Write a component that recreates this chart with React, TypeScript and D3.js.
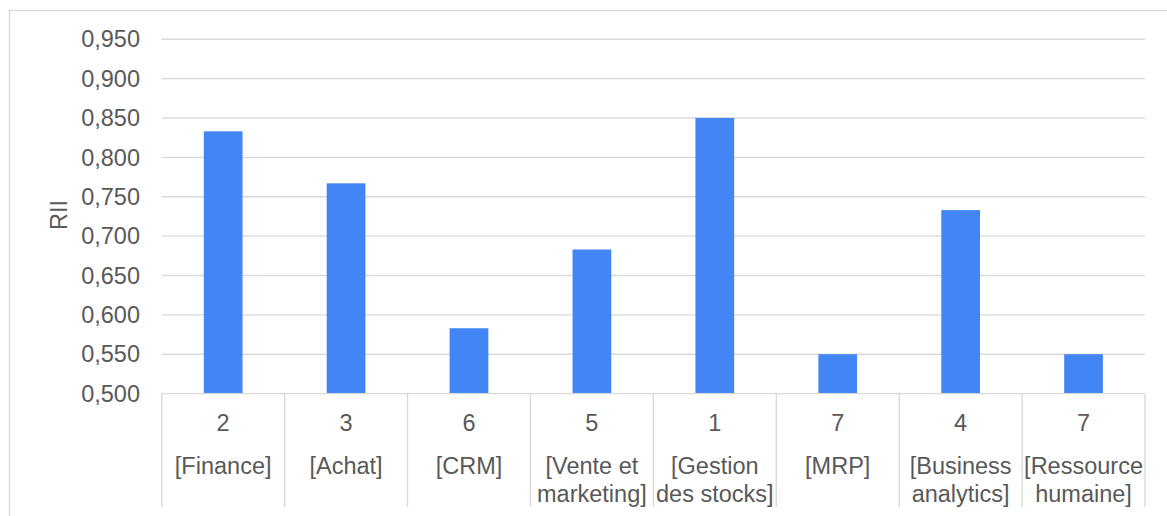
import React from "react";
import * as d3 from "d3";

// RII per ERP module, with its rank
const modules: string[][] = [
  ["[Finance]"],
  ["[Achat]"],
  ["[CRM]"],
  ["[Vente et", "marketing]"],
  ["[Gestion", "des stocks]"],
  ["[MRP]"],
  ["[Business", "analytics]"],
  ["[Ressource", "humaine]"],
];
const ranks: string[] = ["2", "3", "6", "5", "1", "7", "4", "7"];
const rii: number[] = [0.833, 0.767, 0.583, 0.683, 0.85, 0.55, 0.733, 0.55];
const yTicks: number[] = [0.5, 0.55, 0.6, 0.65, 0.7, 0.75, 0.8, 0.85, 0.9, 0.95];

const W = 1167;
const H = 516;
const plot = { left: 161.7, right: 1145, top: 39.2, bottom: 393.6 };
const FONT = "'Liberation Sans', Arial, sans-serif";
const TEXT = "#595959";
const GRID = "#d9d9d9";
const BAR = "#4285f4";
const FS = 23.5;

export default function App() {
  const idx = rii.map((_, i) => String(i));
  const x = d3
    .scaleBand<string>()
    .domain(idx)
    .range([plot.left, plot.right])
    .paddingInner(0)
    .paddingOuter(0);
  const y = d3.scaleLinear().domain([0.5, 0.95]).range([plot.bottom, plot.top]);
  const bw = x.bandwidth() * 0.315;
  const fmt = (v: number) => d3.format(".3f")(v).replace(".", ",");

  return (
    <svg
      width={W}
      height={H}
      style={{ position: "absolute", left: 0, top: 0, display: "block" }}
      fontFamily={FONT}
    >
      <rect x={0} y={0} width={W} height={H} fill="#fff" />
      <rect x={9.5} y={10.5} width={W + 20} height={H + 20} fill="none" stroke={GRID} strokeWidth={1.3} />

      {/* horizontal gridlines */}
      {yTicks.slice(1).map((t) => (
        <line key={t} x1={plot.left} x2={plot.right} y1={y(t)} y2={y(t)} stroke={GRID} strokeWidth={1.4} />
      ))}

      {/* y tick labels */}
      {yTicks.map((t) => (
        <text
          key={"l" + t}
          x={140}
          y={y(t)}
          dy="0.35em"
          textAnchor="end"
          fontSize={FS}
          fill={TEXT}
        >
          {fmt(t)}
        </text>
      ))}

      {/* axis title */}
      <text
        transform={`translate(${67},${215}) rotate(-90)`}
        textAnchor="middle"
        fontSize={FS}
        fill={TEXT}
      >
        RII
      </text>

      {/* bars */}
      {rii.map((v, i) => {
        const cx = (x(String(i)) as number) + x.bandwidth() / 2;
        return (
          <rect key={"b" + i} x={cx - bw / 2} y={y(v)} width={bw} height={y(0.5) - y(v)} fill={BAR} />
        );
      })}

      {/* category axis */}
      <line x1={plot.left} x2={plot.right} y1={plot.bottom} y2={plot.bottom} stroke={GRID} strokeWidth={1.4} />
      {d3.range(rii.length + 1).map((i) => {
        const xx = plot.left + i * x.step();
        return <line key={"s" + i} x1={xx} x2={xx} y1={plot.bottom} y2={507} stroke={GRID} strokeWidth={1.4} />;
      })}
      {rii.map((_, i) => {
        const cx = (x(String(i)) as number) + x.bandwidth() / 2;
        return (
          <g key={"c" + i} fontSize={FS} fill={TEXT} textAnchor="middle">
            <text x={cx} y={422.7} dy="0.35em">
              {ranks[i]}
            </text>
            {modules[i].map((line, j) => (
              <text key={j} x={cx} y={465.7 + j * 27.6} dy="0.35em">
                {line}
              </text>
            ))}
          </g>
        );
      })}
    </svg>
  );
}
